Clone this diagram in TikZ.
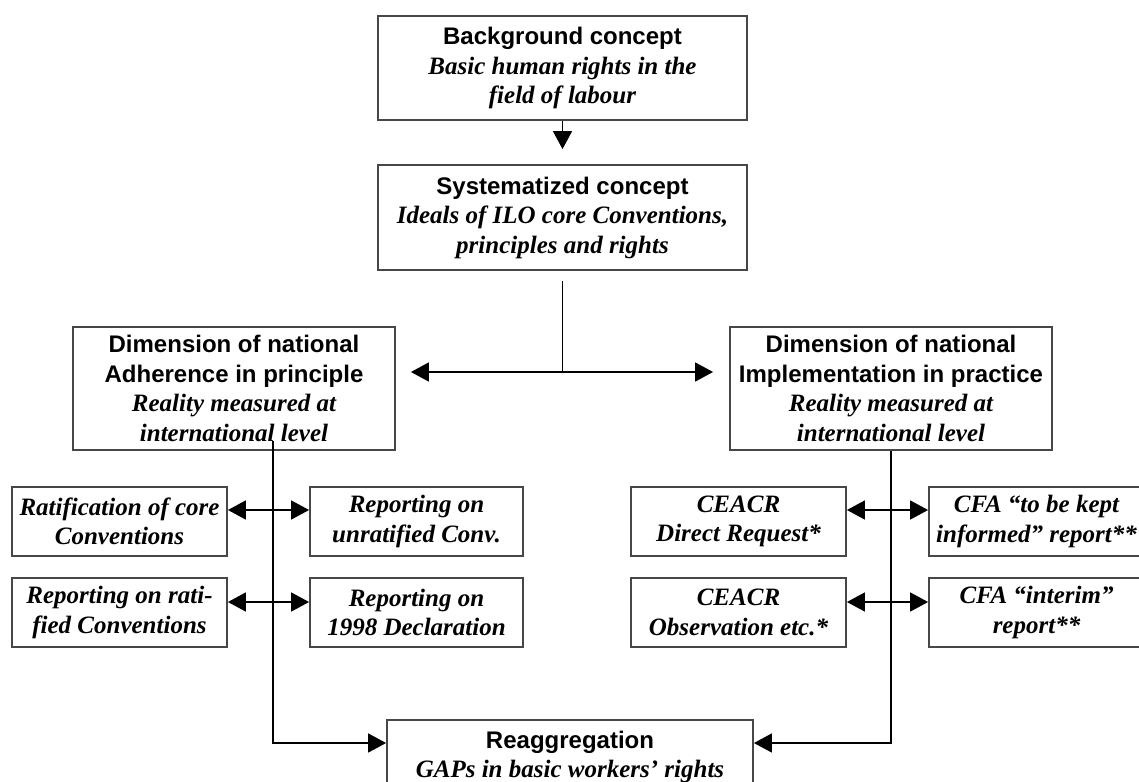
\documentclass[tikz,border=0pt]{standalone}
\usepackage{fontspec}
\setmainfont{Liberation Serif}
\setsansfont{Liberation Sans}
\usetikzlibrary{arrows.meta,calc}
\newcommand{\hd}[1]{{\fontsize{24}{29.5}\selectfont\sffamily\bfseries #1}}
\newcommand{\ib}[1]{{\fontsize{25}{29.5}\selectfont\bfseries\itshape #1}}
\tikzset{
  box/.style={draw=black!72, line width=1.8pt, fill=white, inner sep=0pt, align=center,
    font=\fontsize{25}{29.5}\selectfont},
  conn/.style={line width=1.5pt, black},
  arr/.style={conn, -{Triangle[length=18pt,width=19pt]}},
  dbl/.style={conn, {Triangle[length=18pt,width=19pt]}-{Triangle[length=18pt,width=19pt]}}
}
\begin{document}
\begin{tikzpicture}[x=1pt,y=-1pt]
\useasboundingbox (0,0) rectangle (1139,781);
% main boxes
\node[box, minimum width=369pt, minimum height=104pt] (bg) at (562.5,68)
  {\hd{Background concept}\\\ib{Basic human rights in the}\\\ib{field of labour}};
\node[box, minimum width=369pt, minimum height=105pt] (sys) at (562.5,217.5)
  {\hd{Systematized concept}\\\ib{Ideals of ILO core Conventions,}\\\ib{principles and rights}};
\node[box, minimum width=322pt, minimum height=123pt] (dimL) at (234,388.5)
  {\hd{Dimension of national}\\\hd{Adherence in principle}\\\ib{Reality measured at}\\\ib{international level}};
\node[box, minimum width=322pt, minimum height=123pt] (dimR) at (891,388.5)
  {\hd{Dimension of national}\\\hd{Implementation in practice}\\\ib{Reality measured at}\\\ib{international level}};
% small boxes, left
\node[box, minimum width=215pt, minimum height=69pt] (rat) at (119.5,521.5)
  {\ib{Ratification of core}\\\ib{Conventions}};
\node[box, minimum width=213pt, minimum height=69pt] (unrat) at (416.5,521.5)
  {\ib{Reporting on}\\\ib{unratified Conv.}};
\node[box, minimum width=215pt, minimum height=69pt] (ratif) at (119.5,612.5)
  {\ib{Reporting on rati-}\\\ib{fied Conventions}};
\node[box, minimum width=213pt, minimum height=69pt] (decl) at (416.5,612.5)
  {\ib{Reporting on}\\\ib{1998 Declaration}};
% small boxes, right
\node[box, minimum width=215pt, minimum height=69pt] (dirreq) at (738.5,521.5)
  {\ib{CEACR}\\\ib{Direct Request*}};
\node[box, minimum width=215pt, minimum height=69pt] (kept) at (1036.5,521.5)
  {\ib{CFA “to be kept}\\\ib{informed” report**}};
\node[box, minimum width=215pt, minimum height=69pt] (obs) at (738.5,612.5)
  {\ib{CEACR}\\\ib{Observation etc.*}};
\node[box, minimum width=215pt, minimum height=69pt] (interim) at (1036.5,612.5)
  {\ib{CFA “interim”}\\\ib{report**}};
% bottom
\node[box, minimum width=366pt, minimum height=74pt] (reag) at (570,757)
  {\hd{Reaggregation}\\[-1pt]\ib{GAPs in basic workers’ rights}};
% connectors
\draw[arr, shorten >=15pt] (bg) -- (sys);
\coordinate (j) at (562.5,372);
\draw[conn, shorten <=10pt] (sys.south) -- (j);
\draw[dbl, shorten <=15pt, shorten >=16pt] (j -| dimL.east) -- (j -| dimR.west);
\coordinate (lt) at (273,743);
\coordinate (rt) at (891,743);
\draw[arr] ($(dimL.south -| lt)+(0,-10)$) -- (lt) -- (lt -| reag.west);
\draw[arr] (dimR.south -| rt) -- (rt) -- (rt -| reag.east);
\coordinate (r1) at (0,510);
\coordinate (r2) at (0,602);
\draw[dbl] (r1 -| rat.east) -- (r1 -| unrat.west);
\draw[dbl] (r2 -| ratif.east) -- (r2 -| decl.west);
\draw[dbl] (r1 -| dirreq.east) -- (r1 -| kept.west);
\draw[dbl] (r2 -| obs.east) -- (r2 -| interim.west);
\end{tikzpicture}
\end{document}
